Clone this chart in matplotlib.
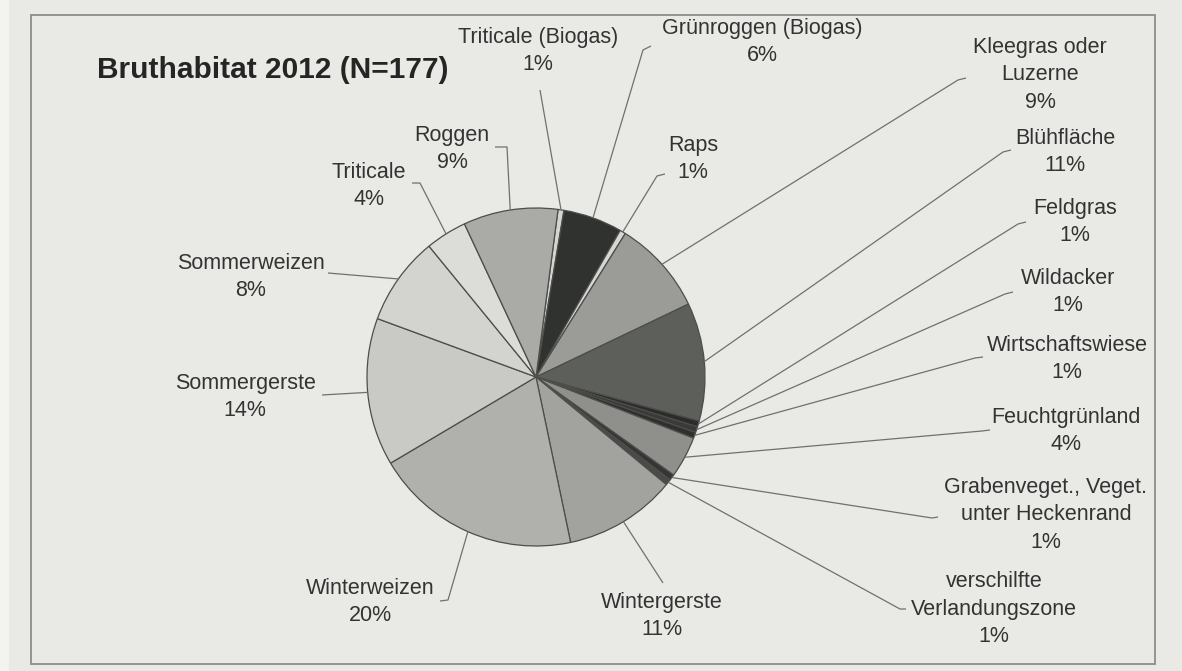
import matplotlib
matplotlib.use("Agg")
import matplotlib.pyplot as plt
from matplotlib.patches import Rectangle
import numpy as np

# ---------------- data ----------------
title_text = "Bruthabitat 2012"
categories = [
    "Triticale (Biogas)", "Grünroggen (Biogas)", "Raps", "Kleegras oder\nLuzerne",
    "Blühfläche", "Feldgras", "Wildacker", "Wirtschaftswiese", "Feuchtgrünland",
    "Grabenveget., Veget.\nunter Heckenrand", "verschilfte\nVerlandungszone",
    "Wintergerste", "Winterweizen", "Sommergerste", "Sommerweizen", "Triticale", "Roggen",
]
counts = [1, 10, 1, 16, 20, 1, 1, 1, 7, 1, 1, 19, 35, 25, 15, 7, 16]
colors = [
    "#d4d4d0", "#2f322e", "#d6d6d2", "#9b9c98", "#5d5f5b", "#2c2d2b", "#3a3b39",
    "#2f302e", "#8f908c", "#353634", "#4a4b49", "#a2a39f", "#b0b1ad", "#c9c9c5",
    "#d3d3cf", "#dcdcd8", "#aaaba7",
]

# ---------------- layout (pixel coordinates, y downward) ----------------
W, H = 1182, 671
CX, CY, R = 536, 377, 169
label_pos = [
    (538, 51), (762, 42), (693, 159), (1040, 75), (1065, 152), (1075, 222),
    (1068, 292), (1067, 359), (1066, 431), (1046, 515), (994, 609), (662, 616),
    (370, 602), (245, 397), (251, 277), (369, 186), (452, 149),
]
elbows = [
    (540, 90), (643, 50), (657, 176), (958, 80), (1003, 152), (1018, 224),
    (1005, 294), (975, 358), (982, 431), (932, 518), (900, 609), (663, 583),
    (448, 600), (322, 395), (328, 273), (420, 183), (507, 147),
]
hooks = [
    (540, 90), (651, 46), (665, 174), (966, 78), (1011, 150), (1026, 222),
    (1013, 292), (983, 357), (990, 430), (938, 517), (906, 609), (663, 583),
    (440, 601), (322, 395), (328, 273), (412, 183), (495, 147),
]

FONT = "Liberation Sans"
TXT = "#333333"

fig = plt.figure(figsize=(W / 100, H / 100), dpi=100)
fig.patch.set_facecolor("#e9e9e5")
ax = fig.add_axes([0, 0, 1, 1])
ax.set_facecolor("#e9e9e5")


def fy(y):
    return H - y


N = sum(counts)
wedges, _ = ax.pie(
    counts, colors=colors, startangle=82.5, counterclock=False,
    center=(CX, fy(CY)), radius=R, frame=True,
    wedgeprops=dict(edgecolor="#4d4d4b", linewidth=0.9),
)

for w, name, (lx, ly), (ex, ey), (hx, hy), c in zip(
        wedges, categories, label_pos, elbows, hooks, counts):
    mid = np.deg2rad((w.theta1 + w.theta2) / 2)
    sx = CX + R * np.cos(mid)
    sy = fy(CY) + R * np.sin(mid)
    ax.plot([sx, ex, hx], [sy, fy(ey), fy(hy)], color="#707070", lw=0.9,
            solid_capstyle="butt", zorder=1)
    pct = f"{round(c / N * 100)}%"
    ax.text(lx, fy(ly), f"{name}\n{pct}", ha="center", va="center",
            multialignment="center", fontsize=15.5, family=FONT, color=TXT,
            linespacing=1.4)

ax.text(97, fy(70), f"{title_text} (N={N})", ha="left", va="center",
        fontsize=21.5, fontweight="bold", family=FONT, color="#252525")

ax.add_patch(Rectangle((31, fy(664)), 1124, 649, fill=False,
                       edgecolor="#8c8c8a", lw=1.3, zorder=0))
ax.add_patch(Rectangle((0, 0), 9, H, facecolor="#f3f3f1", edgecolor="none", zorder=0))

ax.set_xlim(0, W)
ax.set_ylim(0, H)
ax.axis("off")
fig.savefig("out.png", dpi=100, facecolor=fig.get_facecolor())
